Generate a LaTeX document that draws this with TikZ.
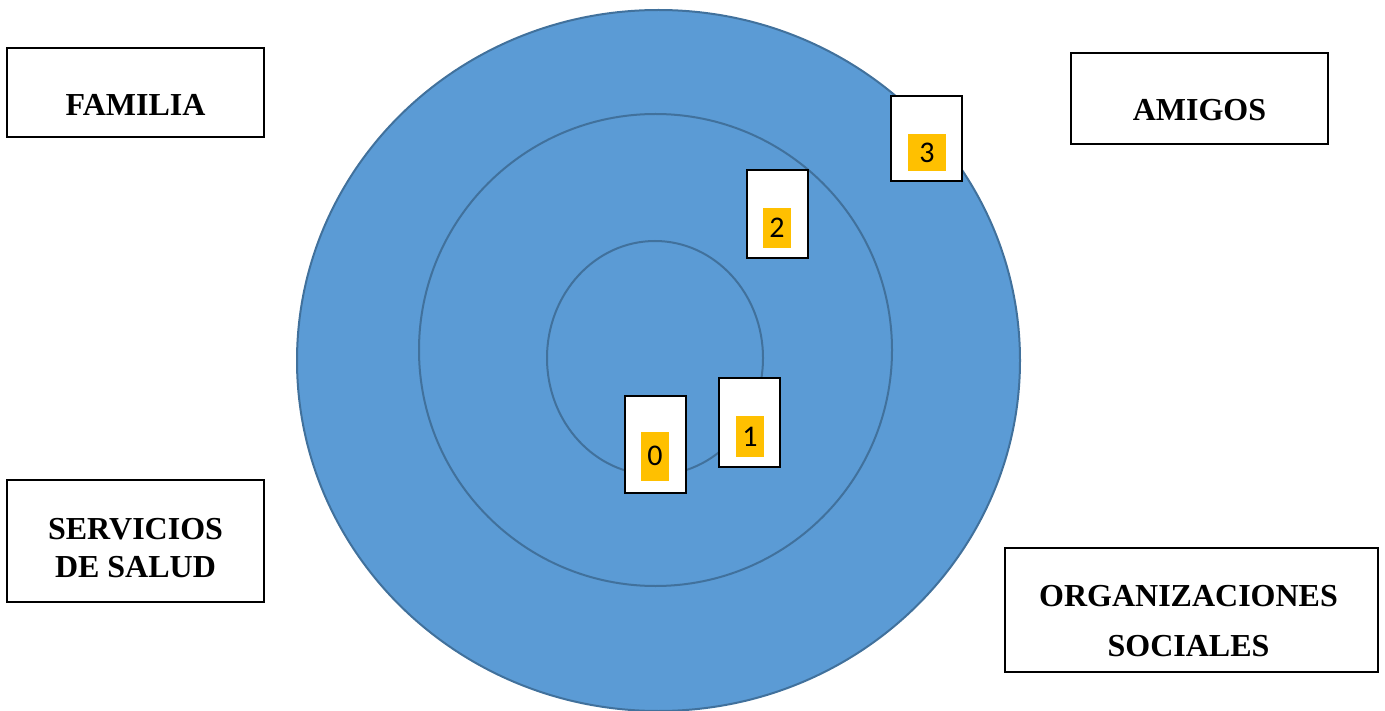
\documentclass[tikz,border=0pt]{standalone}
\usepackage{fontspec}
\setmainfont{Liberation Serif}
\newfontfamily\numfont{Carlito}
\usepackage{tikz}
\definecolor{ringfill}{HTML}{5B9BD5}
\definecolor{ringedge}{HTML}{41719C}
\definecolor{numyellow}{HTML}{FFC000}

\begin{document}
\begin{tikzpicture}[x=1pt,y=-1pt,
	catbox/.style={draw, line width=2, fill=white, inner sep=0},
	cattext/.style={font=\fontsize{32}{38}\selectfont\bfseries, align=center, inner sep=0},
	numbox/.style={draw, line width=2.3, fill=white, minimum width=61, inner sep=0},
	numtag/.style={fill=numyellow, font=\fontsize{30}{36}\selectfont\numfont, minimum width=28, minimum height=40, inner sep=0},
	ring/.style={draw=ringedge, line width=2}
]
\useasboundingbox (0,0) rectangle (1385,711);

% rings
\draw[ring, fill=ringfill] (658.5,360.5) ellipse [x radius=361.5pt, y radius=350.5pt];
\draw[ring] (655.5,350) ellipse [x radius=236.5pt, y radius=236pt];
\draw[ring] (655,358) ellipse [x radius=108pt, y radius=117pt];

% category boxes
\node[catbox, minimum width=257, minimum height=89] (fam) at (135.5,92.5) {};
\node[cattext] (famtxt) at ([yshift=-12]fam.center) {FAMILIA};
\node[catbox, minimum width=257, minimum height=91] (amigos) at (1199.5,98.5) {};
\node[cattext] (amigostxt) at ([yshift=-12]amigos.center) {AMIGOS};
\node[catbox, minimum width=257, minimum height=122] (salud) at (135.5,541) {};
\node[cattext] (saludtxt) at ([yshift=-7.5]salud.center) {SERVICIOS\\DE SALUD};
\node[catbox, minimum width=373, minimum height=124] (org) at (1191.5,610) {};
\node[cattext] (orgtxt) at ([xshift=-3,yshift=-11]org.center) {ORGANIZACIONES\\[12pt]SOCIALES};

% numbered boxes
\node[numbox, minimum height=97] (n0) at (655.5,444.5) {};
\node[numtag, minimum height=49] (t0) at (655,456) {0};
\node[numbox, minimum height=89] (n1) at (749.5,422.5) {};
\node[numtag, minimum height=41] (t1) at (750,436.5) {1};
\node[numbox, minimum height=88] (n2) at (777.5,214) {};
\node[numtag] (t2) at (777,228) {2};
\node[numbox, minimum width=71, minimum height=85] (n3) at (926.5,138.5) {};
\node[numtag, minimum width=38, minimum height=37] (t3) at (927,152.5) {3};
\end{tikzpicture}
\end{document}
